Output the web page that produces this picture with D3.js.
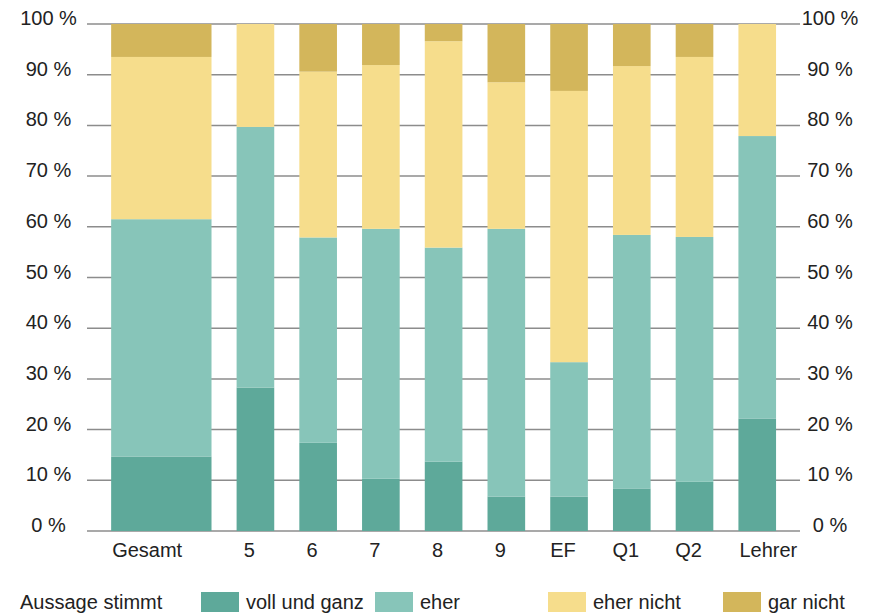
<!DOCTYPE html>
<html>
<head>
<meta charset="utf-8">
<script src="https://cdn.jsdelivr.net/npm/d3@7"></script>
<style>
  html, body { margin: 0; padding: 0; background: #fff; }
  svg { display: block; font-family: "Liberation Sans", Arial, Helvetica, sans-serif; }
</style>
</head>
<body>
<svg id="chart" width="881" height="616"></svg>
<script>
// ---- data ----
const categories = ["Gesamt", "5", "6", "7", "8", "9", "EF", "Q1", "Q2", "Lehrer"];
const vollUndGanz = [14.7, 28.3, 17.4, 10.3, 13.7, 6.8, 6.8, 8.4, 9.7, 22.2];
const eher        = [46.8, 51.4, 40.5, 49.3, 42.2, 52.8, 26.5, 50.0, 48.3, 55.7];
const eherNicht   = [32.0, 20.3, 32.7, 32.3, 40.7, 28.9, 53.5, 33.3, 35.5, 22.1];
const garNicht    = [ 6.5,  0.0,  9.4,  8.1,  3.4, 11.5, 13.2,  8.3,  6.5,  0.0];
const seriesNames = ["voll und ganz", "eher", "eher nicht", "gar nicht"];
const yTicks = [0, 10, 20, 30, 40, 50, 60, 70, 80, 90, 100];
const legendTitle = "Aussage stimmt";

// ---- build table ----
const keys = ["voll", "eher", "eherNicht", "garNicht"];
const table = categories.map((c, i) => ({
  cat: c, voll: vollUndGanz[i], eher: eher[i], eherNicht: eherNicht[i], garNicht: garNicht[i]
}));
const colors = { voll: "#5ea99a", eher: "#87c5b9", eherNicht: "#f6dd8c", garNicht: "#d3b65b" };
const FS = 20;

const svg = d3.select("#chart");

// Gesamt occupies two slots, each other category one slot
const slotOf = (i) => i === 0 ? 0 : i + 1;
const spanOf = (i) => i === 0 ? 2 : 1;
const nSlots = categories.length + 1;

const x = d3.scaleBand()
  .domain(d3.range(nSlots))
  .range([98.6, 788.6])
  .paddingInner(0.4)
  .paddingOuter(0.2);

const y = d3.scaleLinear().domain([0, 100]).range([531, 24]);

const gridLeft = 87, gridRight = 800;

// gridlines
svg.append("g").selectAll("line").data(yTicks).join("line")
  .attr("x1", gridLeft).attr("x2", gridRight)
  .attr("y1", d => y(d)).attr("y2", d => y(d))
  .attr("stroke", "#8c8c8c").attr("stroke-width", 1.5);

// tick labels left & right
const tickFmt = d => d + " %";
svg.append("g").selectAll("text").data(yTicks).join("text")
  .attr("x", 48.5).attr("y", d => y(d) - 6)
  .attr("dy", "0.35em")
  .attr("text-anchor", "middle")
  .attr("font-size", FS).attr("fill", "#222")
  .text(tickFmt);
svg.append("g").selectAll("text").data(yTicks).join("text")
  .attr("x", 830).attr("y", d => y(d) - 6)
  .attr("dy", "0.35em")
  .attr("text-anchor", "middle")
  .attr("font-size", FS).attr("fill", "#222")
  .text(tickFmt);

// stacked bars
const stacked = d3.stack().keys(keys)(table);
const barX = (i) => x(slotOf(i));
const barW = (i) => x(slotOf(i) + spanOf(i) - 1) + x.bandwidth() - x(slotOf(i));

svg.append("g").selectAll("g").data(stacked).join("g")
  .attr("fill", s => colors[s.key])
  .selectAll("rect").data(s => s.map((d, i) => ({ d, i }))).join("rect")
  .attr("x", o => barX(o.i))
  .attr("width", o => barW(o.i))
  .attr("y", o => y(o.d[1]))
  .attr("height", o => Math.max(0, y(o.d[0]) - y(o.d[1])));

// category labels
svg.append("g").selectAll("text").data(categories).join("text")
  .attr("x", (c, i) => {
    if (i === 0 || i === categories.length - 1) return barX(i) + 1;
    return barX(i) + barW(i) / 2 - 6;
  })
  .attr("text-anchor", (c, i) => (i === 0 || i === categories.length - 1) ? "start" : "middle")
  .attr("y", 557)
  .attr("font-size", FS).attr("fill", "#222")
  .text(c => c);

// legend
const legend = svg.append("g");
legend.append("text").attr("x", 20).attr("y", 609)
  .attr("font-size", FS).attr("fill", "#222").text(legendTitle);
const legendX = [201, 375, 548, 723];
keys.forEach((k, i) => {
  legend.append("rect").attr("x", legendX[i]).attr("y", 592)
    .attr("width", 38).attr("height", 20).attr("fill", colors[k]);
  legend.append("text").attr("x", legendX[i] + 45).attr("y", 609)
    .attr("font-size", FS).attr("fill", "#222").text(seriesNames[i]);
});
</script>
</body>
</html>
